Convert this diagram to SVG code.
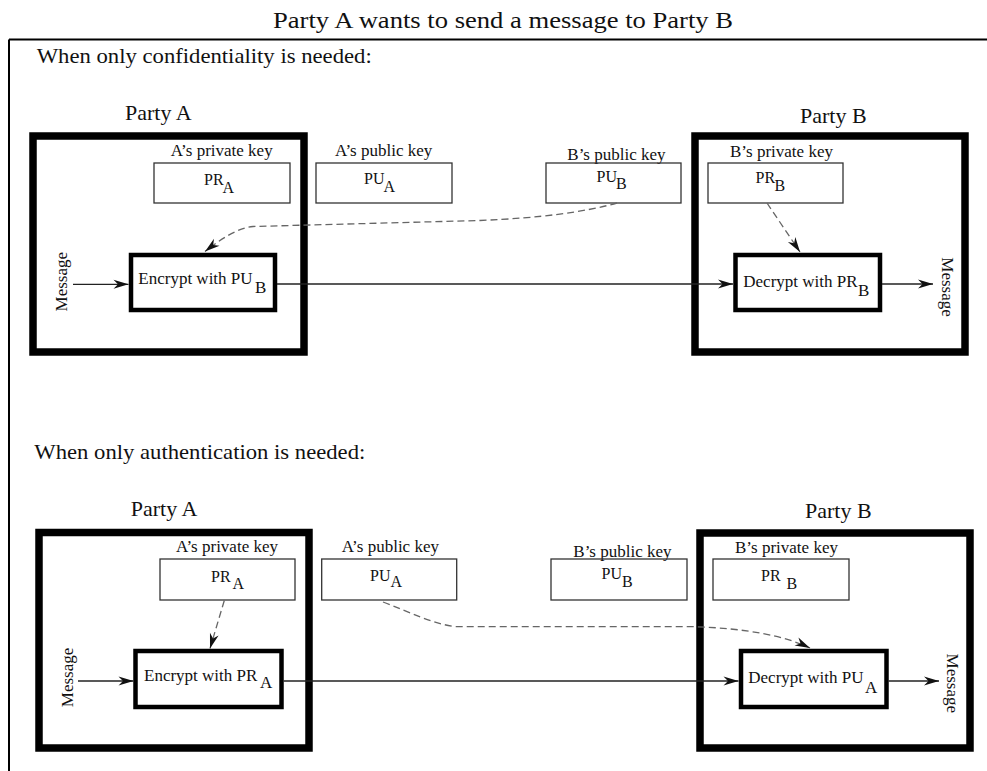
<svg xmlns="http://www.w3.org/2000/svg" width="987" height="771" viewBox="0 0 987 771">
<defs>
<marker id="ah" viewBox="-16 -6 17 12" refX="0" refY="0" markerWidth="17" markerHeight="12" markerUnits="userSpaceOnUse" orient="auto">
<path d="M0,0 L-15,-4.5 L-10.5,0 L-15,4.5 Z" fill="#111"/>
</marker>
</defs>
<style>
text{font-family:"Liberation Serif","Times New Roman",serif;fill:#111}
.party{stroke:#000;stroke-width:7.5;fill:none}
.op{stroke:#000;stroke-width:4.5;fill:none}
.key{stroke:#333;stroke-width:1.3;fill:none}
.flow{stroke:#222;stroke-width:1.3;fill:none}
.dash{stroke:#666;stroke-width:1.3;fill:none;stroke-dasharray:7 4}
.hd{font-size:21px}
.pl{font-size:22px}
.cap{font-size:17px}
.k{font-size:16px}
.op-t{font-size:17px}
.msg{font-size:17px}
</style>
<rect width="987" height="771" fill="#fff"/>
<text x="273" y="28.3" font-size="23" textLength="460" lengthAdjust="spacingAndGlyphs">Party A wants to send a message to Party B</text>
<g id="frame"><path d="M9,39.5 H987 M9,39.5 V771" stroke="#000" stroke-width="2" fill="none"/></g>

<text class="hd" x="36.7" y="63.3" textLength="335" lengthAdjust="spacingAndGlyphs">When only confidentiality is needed:</text>
<text class="hd" x="34.3" y="459.3" textLength="331" lengthAdjust="spacingAndGlyphs">When only authentication is needed:</text>

<!-- Top section -->
<g id="top-partyA">
<rect class="party" x="33" y="136" width="271" height="216"/>
<text class="pl" x="125" y="120">Party A</text>
</g>
<g id="top-partyB">
<rect class="party" x="695" y="136" width="270" height="216"/>
<text class="pl" x="800" y="122.7">Party B</text>
</g>
<g id="top-prA">
<text class="cap" x="170.7" y="156">A’s private key</text>
<rect class="key" x="154" y="163" width="136" height="40"/>
<text class="k" x="204" y="185">PR<tspan dx="-1" dy="7.7">A</tspan></text>
</g>
<g id="top-puA">
<text class="cap" x="335" y="156">A’s public key</text>
<rect class="key" x="316" y="163" width="136" height="40"/>
<text class="k" x="364" y="184">PU<tspan dx="-1" dy="7.7">A</tspan></text>
</g>
<g id="top-puB">
<text class="cap" x="567.3" y="160">B’s public key</text>
<rect class="key" x="546" y="163" width="135" height="40"/>
<text class="k" x="596.5" y="181.7">PU<tspan dx="-1" dy="7.6">B</tspan></text>
</g>
<g id="top-prB">
<text class="cap" x="730" y="156.7">B’s private key</text>
<rect class="key" x="708" y="163" width="135" height="40"/>
<text class="k" x="755.5" y="183">PR<tspan dx="-0.5" dy="7.5">B</tspan></text>
</g>
<g id="top-encrypt">
<rect class="op" x="131" y="255" width="144" height="55"/>
<text class="op-t" x="138.3" y="284">Encrypt with PU<tspan dx="2.4" dy="8.5">B</tspan></text>
</g>
<g id="top-decrypt">
<rect class="op" x="735.5" y="255" width="144.5" height="55"/>
<text class="op-t" x="743.3" y="286.5">Decrypt with PR<tspan dx="0.5" dy="9">B</tspan></text>
</g>
<g id="top-msg-in"><text class="msg" text-anchor="middle" transform="translate(67,281.7) rotate(-90)">Message</text></g>
<g id="top-msg-out"><text class="msg" text-anchor="middle" transform="translate(942,287) rotate(90)">Message</text></g>

<!-- Bottom section -->
<g id="bot-partyA">
<rect class="party" x="39" y="532.5" width="270" height="215.5"/>
<text class="pl" x="130.7" y="515.7">Party A</text>
</g>
<g id="bot-partyB">
<rect class="party" x="700" y="533" width="270" height="215"/>
<text class="pl" x="805" y="518.3">Party B</text>
</g>
<g id="bot-prA">
<text class="cap" x="176" y="552">A’s private key</text>
<rect class="key" x="160" y="559" width="135" height="41"/>
<text class="k" x="211" y="581.7">PR<tspan dx="2" dy="7.6">A</tspan></text>
</g>
<g id="bot-puA">
<text class="cap" x="341.7" y="552">A’s public key</text>
<rect class="key" x="321.7" y="559" width="135" height="41"/>
<text class="k" x="370" y="581">PU<tspan dx="0" dy="6">A</tspan></text>
</g>
<g id="bot-puB">
<text class="cap" x="573.3" y="556.7">B’s public key</text>
<rect class="key" x="551" y="559" width="136" height="41"/>
<text class="k" x="601.5" y="579.3">PU<tspan dx="0" dy="7.4">B</tspan></text>
</g>
<g id="bot-prB">
<text class="cap" x="735" y="553.3">B’s private key</text>
<rect class="key" x="713" y="559" width="136" height="41"/>
<text class="k" x="761" y="581">PR<tspan dx="6" dy="8.3">B</tspan></text>
</g>
<g id="bot-encrypt">
<rect class="op" x="135.5" y="651" width="146" height="56"/>
<text class="op-t" x="144" y="681">Encrypt with PR<tspan dx="2.7" dy="7.3">A</tspan></text>
</g>
<g id="bot-decrypt">
<rect class="op" x="741" y="651" width="145.5" height="56"/>
<text class="op-t" x="748.3" y="683.3">Decrypt with PU<tspan dx="1.5" dy="10">A</tspan></text>
</g>
<g id="bot-msg-in"><text class="msg" text-anchor="middle" transform="translate(73,677.5) rotate(-90)">Message</text></g>
<g id="bot-msg-out"><text class="msg" text-anchor="middle" transform="translate(947,683.3) rotate(90)">Message</text></g>

<g id="connectors">
<line class="flow" x1="73" y1="284.3" x2="128.5" y2="284.3" marker-end="url(#ah)"/>
<line class="flow" x1="277" y1="284" x2="733" y2="284" marker-end="url(#ah)"/>
<line class="flow" x1="882" y1="284" x2="933" y2="284" marker-end="url(#ah)"/>
<path class="dash" d="M617,203 C585,212 540,218 480,220.5 L253,226.5 C238,228 222,238 205,251.5" marker-end="url(#ah)"/>
<path class="dash" d="M767,203 L800,252" marker-end="url(#ah)"/>
<line class="flow" x1="78" y1="681" x2="133.5" y2="681" marker-end="url(#ah)"/>
<line class="flow" x1="283.5" y1="681" x2="738.5" y2="681" marker-end="url(#ah)"/>
<line class="flow" x1="888.5" y1="681" x2="939" y2="681" marker-end="url(#ah)"/>
<path class="dash" d="M224.3,600.5 L210,648.5" marker-end="url(#ah)"/>
<path class="dash" d="M383,602 C410,612 430,623 455,626.7 L693,626.7 C745,628 785,636 810,648" marker-end="url(#ah)"/>
</g>
</svg>
